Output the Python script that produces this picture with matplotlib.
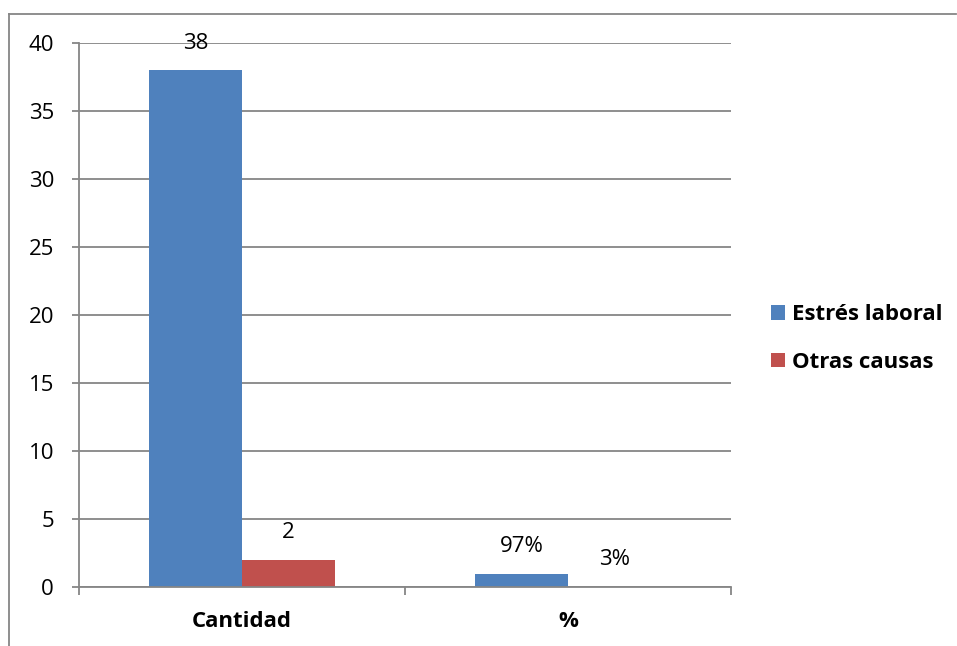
import matplotlib

matplotlib.use("Agg")
import matplotlib.pyplot as plt
from matplotlib.lines import Line2D
import numpy as np

plt.rcParams["font.family"] = ["Open Sans", "DejaVu Sans"]

categories = ["Cantidad", "%"]
estres = [38, 0.97]
otras = [2, 0.03]
estres_labels = ["38", "97%"]
otras_labels = ["2", "3%"]
series_names = ["Estrés laboral", "Otras causas"]
y_ticks = [0, 5, 10, 15, 20, 25, 30, 35, 40]

BLUE = "#4F81BD"
RED = "#C0504D"
GRAY = "#868686"
FS = 16

fig = plt.figure(figsize=(9.57, 6.46), dpi=100)
ax = fig.add_axes([0.0825, 0.0913, 0.6813, 0.8421])

x = np.arange(len(categories))
width = 1 / 3.5

bars1 = ax.bar(x - width / 2, estres, width, color=BLUE, label=series_names[0])
bars2 = ax.bar(x + width / 2, otras, width, color=RED, label=series_names[1])

for bars, labels in [(bars1, estres_labels), (bars2, otras_labels)]:
    for bar, text in zip(bars, labels):
        ax.annotate(
            text,
            (bar.get_x() + bar.get_width() / 2, bar.get_height()),
            xytext=(0, 19.5),
            textcoords="offset points",
            ha="center",
            va="center",
            fontsize=FS,
        )

ax.set_ylim(0, 40)
ax.set_xlim(-0.5, len(categories) - 0.5)
ax.set_yticks(y_ticks)
ax.yaxis.grid(True, color=GRAY, linewidth=1.3)
ax.set_axisbelow(True)

ax.set_xticks([-0.5, 0.5, 1.5])
ax.set_xticklabels([])
ax.set_xticks(x, minor=True)
ax.set_xticklabels(categories, minor=True, fontweight="bold", fontsize=FS)
ax.tick_params(axis="x", which="major", length=6, width=1.3, color=GRAY)
ax.tick_params(axis="x", which="minor", length=0, pad=17)
ax.tick_params(axis="y", length=5, width=1.3, color=GRAY, labelsize=FS, pad=13)

for side in ["top", "right"]:
    ax.spines[side].set_visible(False)
for side in ["left", "bottom"]:
    ax.spines[side].set_color(GRAY)
    ax.spines[side].set_linewidth(1.3)

ax.legend(
    loc="center left",
    bbox_to_anchor=(1.03, 0.457),
    frameon=False,
    prop={"weight": "bold", "size": FS},
    handlelength=0.65,
    handleheight=0.65,
    handletextpad=0.3,
    labelspacing=1.2,
)

# outer chart frame (only left and top edges fall inside the image)
fig.add_artist(Line2D([9 / 957, 9 / 957], [0, 1 - 14 / 646],
                      transform=fig.transFigure, color=GRAY, linewidth=1.3))
fig.add_artist(Line2D([9 / 957, 956 / 957], [1 - 14 / 646, 1 - 14 / 646],
                      transform=fig.transFigure, color=GRAY, linewidth=1.3))

plt.savefig("out.png", dpi=100)
plt.close()
